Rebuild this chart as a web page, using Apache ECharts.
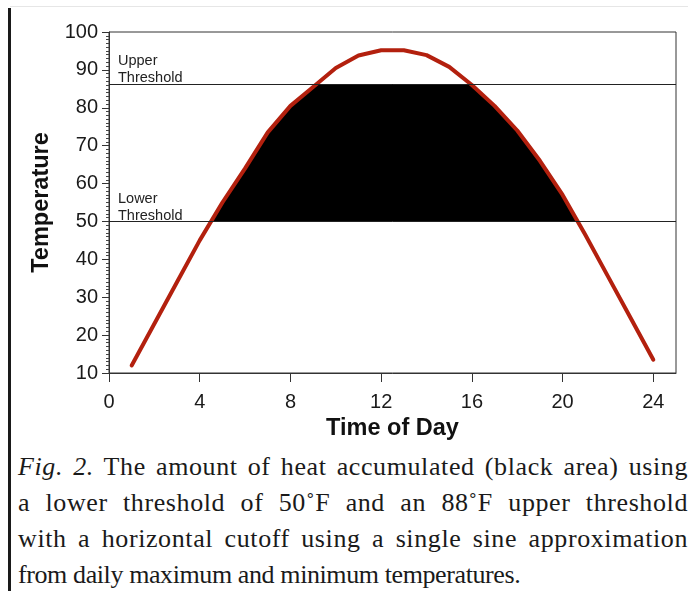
<!DOCTYPE html>
<html>
<head>
<meta charset="utf-8">
<script src="https://cdn.jsdelivr.net/npm/echarts@6/dist/echarts.min.js"></script>
<style>
  html, body { margin: 0; padding: 0; background: #fff; }
  body { width: 688px; height: 591px; position: relative; overflow: hidden; }
  #topRule { position: absolute; left: 10px; right: 0; top: 6px; height: 1px; background: #e6e6e6; }
  #sideBar { position: absolute; left: 8px; top: 8px; bottom: 0; width: 3px; background: #1a1a1a; }
  #chart { position: absolute; left: 0; top: 0; width: 688px; height: 440px; }
  #caption { position: absolute; left: 18px; right: 0; top: 449px;
    font-family: "Liberation Serif", serif; font-size: 26px; line-height: 36px; color: #1a1a1a; }
  #caption div { white-space: nowrap; letter-spacing: -0.4px; }
  #caption .j { text-align: justify; text-align-last: justify; white-space: normal; letter-spacing: 0.6px; }
</style>
</head>
<body>
<div id="topRule"></div>
<div id="sideBar"></div>
<div id="chart"></div>
<div id="caption">
  <div class="j"><i>Fig. 2.</i> The amount of heat accumulated (black area) using</div>
  <div class="j">a lower threshold of 50˚F and an 88˚F upper threshold</div>
  <div class="j">with a horizontal cutoff using a single sine approximation</div>
  <div>from daily maximum and minimum temperatures.</div>
</div>
<script>
// hourly temperatures
const hours = [1, 2, 3, 4, 5, 6, 7, 8, 9, 10, 11, 12, 13, 14, 15, 16, 17, 18, 19, 20, 21, 22, 23, 24];
const temps = [12, 23, 34, 45, 55, 64, 73.5, 80.5, 85.5, 90.5, 93.8, 95.2, 95.2, 93.9, 90.8, 86, 80.5, 74, 66, 57, 46.5, 35.5, 24.5, 13.5];
const lowerThreshold = 50;
const upperThreshold = 86.3;
const xTicks = [0, 4, 8, 12, 16, 20, 24];

// black area: between lower threshold and the curve, cut off at upper threshold
function buildFill() {
    let xs = hours.slice();
    for (let i = 0; i < hours.length - 1; i++) {
        [lowerThreshold, upperThreshold].forEach(function (lv) {
            let a = temps[i], b = temps[i + 1];
            if ((a - lv) * (b - lv) < 0) {
                xs.push(hours[i] + (lv - a) / (b - a) * (hours[i + 1] - hours[i]));
            }
        });
    }
    xs.sort(function (a, b) { return a - b; });
    function valAt(x) {
        for (let i = 0; i < hours.length - 1; i++) {
            if (x >= hours[i] && x <= hours[i + 1]) {
                return temps[i] + (x - hours[i]) / (hours[i + 1] - hours[i]) * (temps[i + 1] - temps[i]);
            }
        }
        return temps[temps.length - 1];
    }
    let top = [];
    xs.forEach(function (x) {
        let v = valAt(x);
        if (v >= lowerThreshold - 1e-9) top.push([x, Math.min(v, upperThreshold)]);
    });
    return [[top[0][0], lowerThreshold]].concat(top, [[top[top.length - 1][0], lowerThreshold]]);
}
const fillPts = buildFill();

let myChart = echarts.init(document.getElementById('chart'));
const sans = '"Liberation Sans", Arial, sans-serif';
myChart.setOption({
    animation: false,
    grid: {
        left: 109,
        right: 12,
        top: 32,
        bottom: 67,
        outerBoundsMode: 'none',
        containLabel: false,
        show: true,
        borderColor: '#333',
        borderWidth: 1
    },
    xAxis: {
        type: 'value',
        min: 0,
        max: 25,
        name: 'Time of Day',
        nameLocation: 'middle',
        nameGap: 44,
        nameTextStyle: { fontFamily: sans, fontSize: 23.5, fontWeight: 'bold', color: '#111' },
        axisLine: { show: true, lineStyle: { color: '#333', width: 1 } },
        axisTick: { show: true, length: 9, customValues: xTicks, lineStyle: { color: '#333' } },
        axisLabel: { customValues: xTicks, margin: 19, fontFamily: sans, fontSize: 20, color: '#1a1a1a' },
        splitLine: { show: false }
    },
    yAxis: {
        type: 'value',
        min: 10,
        max: 100,
        interval: 10,
        name: 'Temperature',
        nameLocation: 'middle',
        nameGap: 53,
        nameTextStyle: { fontFamily: sans, fontSize: 23.5, fontWeight: 'bold', color: '#111' },
        axisLine: { show: true, lineStyle: { color: '#333', width: 1 } },
        axisTick: { show: true, length: 7, lineStyle: { color: '#333' } },
        minorTick: { show: true, splitNumber: 10, length: 3, lineStyle: { color: '#444' } },
        axisLabel: { margin: 11, fontFamily: sans, fontSize: 20, color: '#1a1a1a' },
        splitLine: { show: false }
    },
    series: [
        {
            type: 'custom',
            z: 1,
            silent: true,
            data: [[0, 0]],
            renderItem: function (params, api) {
                return {
                    type: 'polygon',
                    shape: { points: fillPts.map(function (p) { return api.coord(p); }) },
                    style: { fill: '#000' }
                };
            }
        },
        {
            type: 'line',
            z: 3,
            data: hours.map(function (h, i) { return [h, temps[i]]; }),
            showSymbol: false,
            lineStyle: { color: '#b3200e', width: 4, cap: 'round', join: 'round' },
            markLine: {
                silent: true,
                symbol: 'none',
                lineStyle: { color: '#222', width: 1, type: 'solid' },
                label: {
                    position: 'insideStartTop',
                    distance: [9, -3],
                    fontFamily: sans,
                    fontSize: 14.5,
                    lineHeight: 17,
                    color: '#222',
                    align: 'left'
                },
                data: [
                    { yAxis: upperThreshold, label: { formatter: 'Upper\nThreshold' } },
                    { yAxis: lowerThreshold, label: { formatter: 'Lower\nThreshold' } }
                ]
            }
        }
    ]
});
</script>
</body>
</html>
